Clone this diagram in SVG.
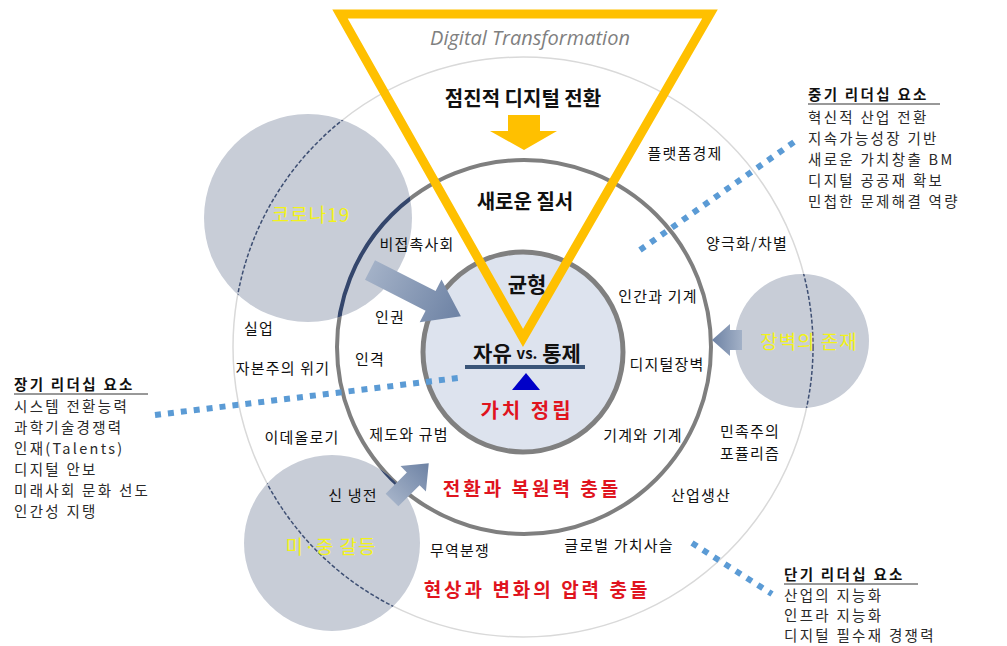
<svg xmlns="http://www.w3.org/2000/svg" width="1007" height="646" viewBox="0 0 1007 646">
<style>
text{font-family:"Noto Sans CJK KR","Noto Sans",sans-serif;dominant-baseline:central}
.lbl{font-size:15px;fill:#111;text-anchor:middle;letter-spacing:1.2px}
.head{font-size:20px;font-weight:bold;fill:#111;text-anchor:middle}
.red{font-size:19px;font-weight:bold;fill:#e0141e;text-anchor:middle;letter-spacing:3px}
.yel{font-size:19px;fill:#f2f21a;text-anchor:middle;letter-spacing:1px}
.box{font-size:14.5px;fill:#2a2a2a;letter-spacing:2.3px}
.boxh{font-size:14.5px;fill:#111;font-weight:bold;letter-spacing:2.3px}
.dot{fill:none;stroke:#5b9bd5;stroke-width:6;stroke-dasharray:6 7}
.garrow{fill:url(#ag)}
.gc{fill:#c8cdd7}
</style>
<defs>
<linearGradient id="ag" x1="0" y1="0" x2="1" y2="0">
<stop offset="0" stop-color="#a3b1c7"/>
<stop offset="1" stop-color="#6d82a4"/>
</linearGradient>
<clipPath id="grayClip">
<circle cx="308" cy="218" r="104"/>
<circle cx="802" cy="341" r="67"/>
<circle cx="332" cy="543" r="88"/>
</clipPath>
</defs>
<rect width="1007" height="646" fill="#fff"/>

<g id="rings">
<circle id="outer-ring" cx="523" cy="347" r="290" fill="none" stroke="#d9d9d9" stroke-width="1.5"/>
<circle id="middle-ring" cx="524" cy="347" r="187" fill="none" stroke="#7f7f7f" stroke-width="4"/>
<circle id="inner-ring" cx="523" cy="352" r="100" fill="#dde3ee" stroke="#808080" stroke-width="5"/>
</g>

<g id="covid"><circle class="gc" cx="308" cy="218" r="104"/></g>
<g id="barrier"><circle class="gc" cx="802" cy="341" r="67"/></g>
<g id="uschina"><circle class="gc" cx="332" cy="543" r="88"/></g>

<g clip-path="url(#grayClip)">
<circle cx="523" cy="347" r="290" fill="none" stroke="#3e4f73" stroke-width="1.5" stroke-dasharray="4 2"/>
<circle cx="524" cy="347" r="187" fill="none" stroke="#34466c" stroke-width="4"/>
</g>

<g id="connectors">
<path class="garrow" transform="translate(370,270) rotate(27)" d="M0,-11 L68,-11 L68,-24 L102,0 L68,24 L68,11 L0,11 Z"/>
<path class="garrow" transform="translate(742,340) rotate(180)" d="M0,-10 L12,-10 L12,-16 L30,0 L12,16 L12,10 L0,10 Z"/>
<path class="garrow" transform="translate(392,500) rotate(-45)" d="M0,-9 L30,-9 L30,-18 L52,0 L30,18 L30,9 L0,9 Z"/>
<line class="dot" x1="640" y1="250" x2="797" y2="140"/>
<line class="dot" x1="155" y1="415" x2="458" y2="378"/>
<line class="dot" x1="692" y1="543" x2="772" y2="594"/>
</g>

<g id="dt-triangle">
<polygon points="340,14 710,14 523,338" fill="none" stroke="#ffc000" stroke-width="9" stroke-linejoin="miter"/>
<text x="530" y="37" style="font-family:'Open Sans','Liberation Sans',sans-serif;font-style:italic;font-size:20px;fill:#7f7f7f;text-anchor:middle">Digital Transformation</text>
<text class="head" x="523" y="97">점진적 디지털 전환</text>
<polygon points="508,115 540,115 540,131 557,131 524,150 490,131 508,131" fill="#ffc000"/>
</g>

<g id="center">
<text class="head" x="525" y="200">새로운 질서</text>
<text class="head" x="527" y="283" style="font-size:21px">균형</text>
<text x="527" y="352" style="font-size:21px;font-weight:bold;fill:#111;text-anchor:middle">자유 <tspan style="font-size:15px">vs.</tspan> 통제</text>
<line x1="465" y1="367" x2="585" y2="367" stroke="#3a5578" stroke-width="4"/>
<polygon points="526,373 540,390 512,390" fill="#0000c8"/>
<text class="red" x="527" y="409" style="font-size:20px">가치 정립</text>
</g>

<g id="ring-labels">
<text class="lbl" x="685" y="152">플랫폼경제</text>
<text class="lbl" x="747" y="242">양극화/차별</text>
<text class="lbl" x="417" y="243">비접촉사회</text>
<text class="lbl" x="658" y="295">인간과 기계</text>
<text class="lbl" x="390" y="316">인권</text>
<text class="lbl" x="259" y="327">실업</text>
<text class="lbl" x="370" y="358">인격</text>
<text class="lbl" x="283" y="367">자본주의 위기</text>
<text class="lbl" x="667" y="363">디지털장벽</text>
<text class="lbl" x="302" y="436">이데올로기</text>
<text class="lbl" x="409" y="433">제도와 규범</text>
<text class="lbl" x="643" y="434">기계와 기계</text>
<text class="lbl" x="750" y="430">민족주의</text>
<text class="lbl" x="750" y="452">포퓰리즘</text>
<text class="lbl" x="353" y="494">신 냉전</text>
<text class="lbl" x="701" y="494">산업생산</text>
<text class="lbl" x="460" y="549">무역분쟁</text>
<text class="lbl" x="619" y="544">글로벌 가치사슬</text>
<text class="red" x="532" y="487">전환과 복원력 충돌</text>
<text class="red" x="537" y="588">현상과 변화의 압력 충돌</text>
</g>

<g id="yellow-labels">
<text class="yel" x="311" y="213">코로나19</text>
<text class="yel" x="809" y="340">장벽의 존재</text>
<text class="yel" x="331" y="545">미·중 갈등</text>
</g>

<g id="mid-term">
<text class="boxh" x="808" y="93">중기 리더십 요소</text>
<line x1="808" y1="104" x2="940" y2="104" stroke="#333" stroke-width="1"/>
<text class="box" x="808" y="116">혁신적 산업 전환</text>
<text class="box" x="808" y="137">지속가능성장 기반</text>
<text class="box" x="808" y="158">새로운 가치창출 BM</text>
<text class="box" x="808" y="179">디지털 공공재 확보</text>
<text class="box" x="808" y="200">민첩한 문제해결 역량</text>
</g>

<g id="long-term">
<text class="boxh" x="14" y="383">장기 리더십 요소</text>
<line x1="14" y1="394" x2="148" y2="394" stroke="#333" stroke-width="1"/>
<text class="box" x="14" y="405">시스템 전환능력</text>
<text class="box" x="14" y="426">과학기술경쟁력</text>
<text class="box" x="14" y="447">인재(Talents)</text>
<text class="box" x="14" y="468">디지털 안보</text>
<text class="box" x="14" y="489">미래사회 문화 선도</text>
<text class="box" x="14" y="510">인간성 지탱</text>
</g>

<g id="short-term">
<text class="boxh" x="784" y="573">단기 리더십 요소</text>
<line x1="784" y1="584" x2="918" y2="584" stroke="#333" stroke-width="1"/>
<text class="box" x="784" y="594">산업의 지능화</text>
<text class="box" x="784" y="614">인프라 지능화</text>
<text class="box" x="784" y="634">디지털 필수재 경쟁력</text>
</g>
</svg>
